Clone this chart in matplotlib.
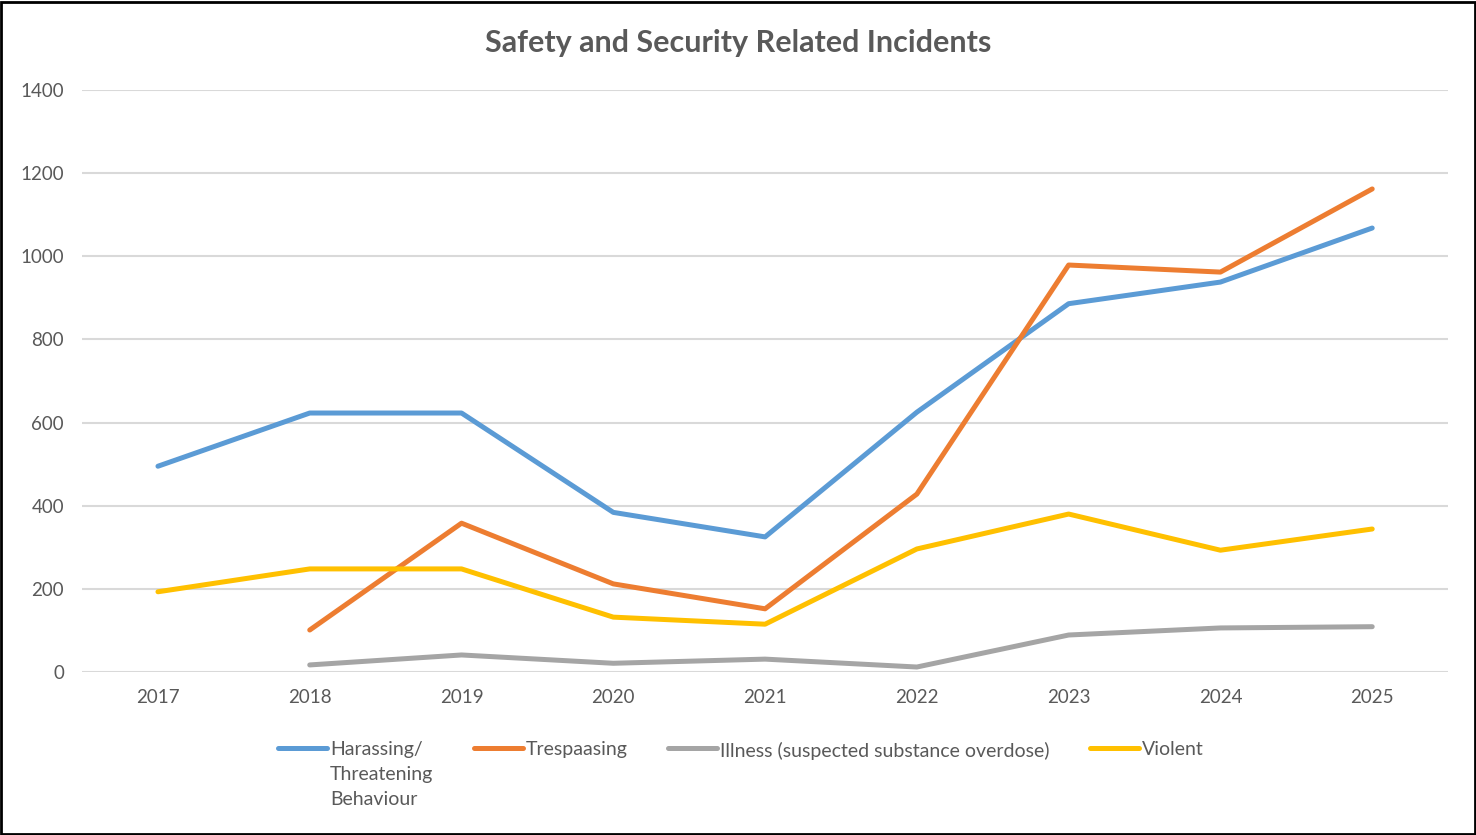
import matplotlib.pyplot as plt
import numpy as np

years = ['2017', '2018', '2019', '2020', '2021', '2022', '2023', '2024', '2025']
harassing = [495, 623, 623, 384, 325, 625, 886, 938, 1068]
trespassing = [None, 101, 358, 212, 152, 428, 979, 962, 1162]
illness = [None, 17, 41, 21, 31, 12, 89, 106, 109]
violent = [193, 248, 248, 132, 115, 296, 380, 293, 344]

series = [
    ('Harassing/\nThreatening\nBehaviour', harassing, '#5B9BD5'),
    ('Trespaasing', trespassing, '#ED7D31'),
    ('Illness (suspected substance overdose)', illness, '#A5A5A5'),
    ('Violent', violent, '#FFC000'),
]

plt.rcParams['font.family'] = ['Lato', 'DejaVu Sans']
txt = '#595959'

fig = plt.figure(figsize=(14.76, 8.35), dpi=100)
ax = fig.add_axes([0.0556, 0.1952, 0.9255, 0.697])

x = np.arange(len(years))
for label, vals, color in series:
    y = np.array([np.nan if v is None else v for v in vals], dtype=float)
    ax.plot(x, y, color=color, lw=3.6, label=label, solid_capstyle='round', solid_joinstyle='round')

ax.set_xlim(-0.5, len(years) - 0.5)
ax.set_ylim(0, 1400)
ax.set_yticks(range(0, 1401, 200))
ax.set_xticks(x)
ax.set_xticklabels(years)
ax.grid(axis='y', color='#d9d9d9', lw=1.5)
ax.set_axisbelow(True)
for s in ax.spines.values():
    s.set_visible(False)
ax.tick_params(length=0, labelsize=13.5, colors=txt, pad=12)
ax.tick_params(axis='y', pad=13)

fig.text(0.5, 0.948, 'Safety and Security Related Incidents', ha='center', va='center',
         fontsize=22, fontweight='bold', color=txt)

leg = fig.legend(loc='upper center', bbox_to_anchor=(0.502, 0.133), ncol=4, frameon=False,
                 fontsize=14, handlelength=2.5, handletextpad=0.15, columnspacing=2.1,
                 labelcolor=txt)
for h in leg.legend_handles:
    h.set_linewidth(3.6)
for t in leg.get_texts():
    t.set_linespacing(1.55)
# Excel puts the swatch beside the first line of a wrapped label
leg._legend_handle_box.align = 'top'
for col in leg._legend_handle_box.get_children():
    col.align = 'left'
    for item in col.get_children():
        item.align = 'top'

# black border around the whole picture
fig.patches.append(plt.Rectangle((0.001, 0.001), 0.998, 0.997, transform=fig.transFigure,
                                 fill=False, edgecolor='black', lw=2))

fig.savefig('out.png', dpi=100)
